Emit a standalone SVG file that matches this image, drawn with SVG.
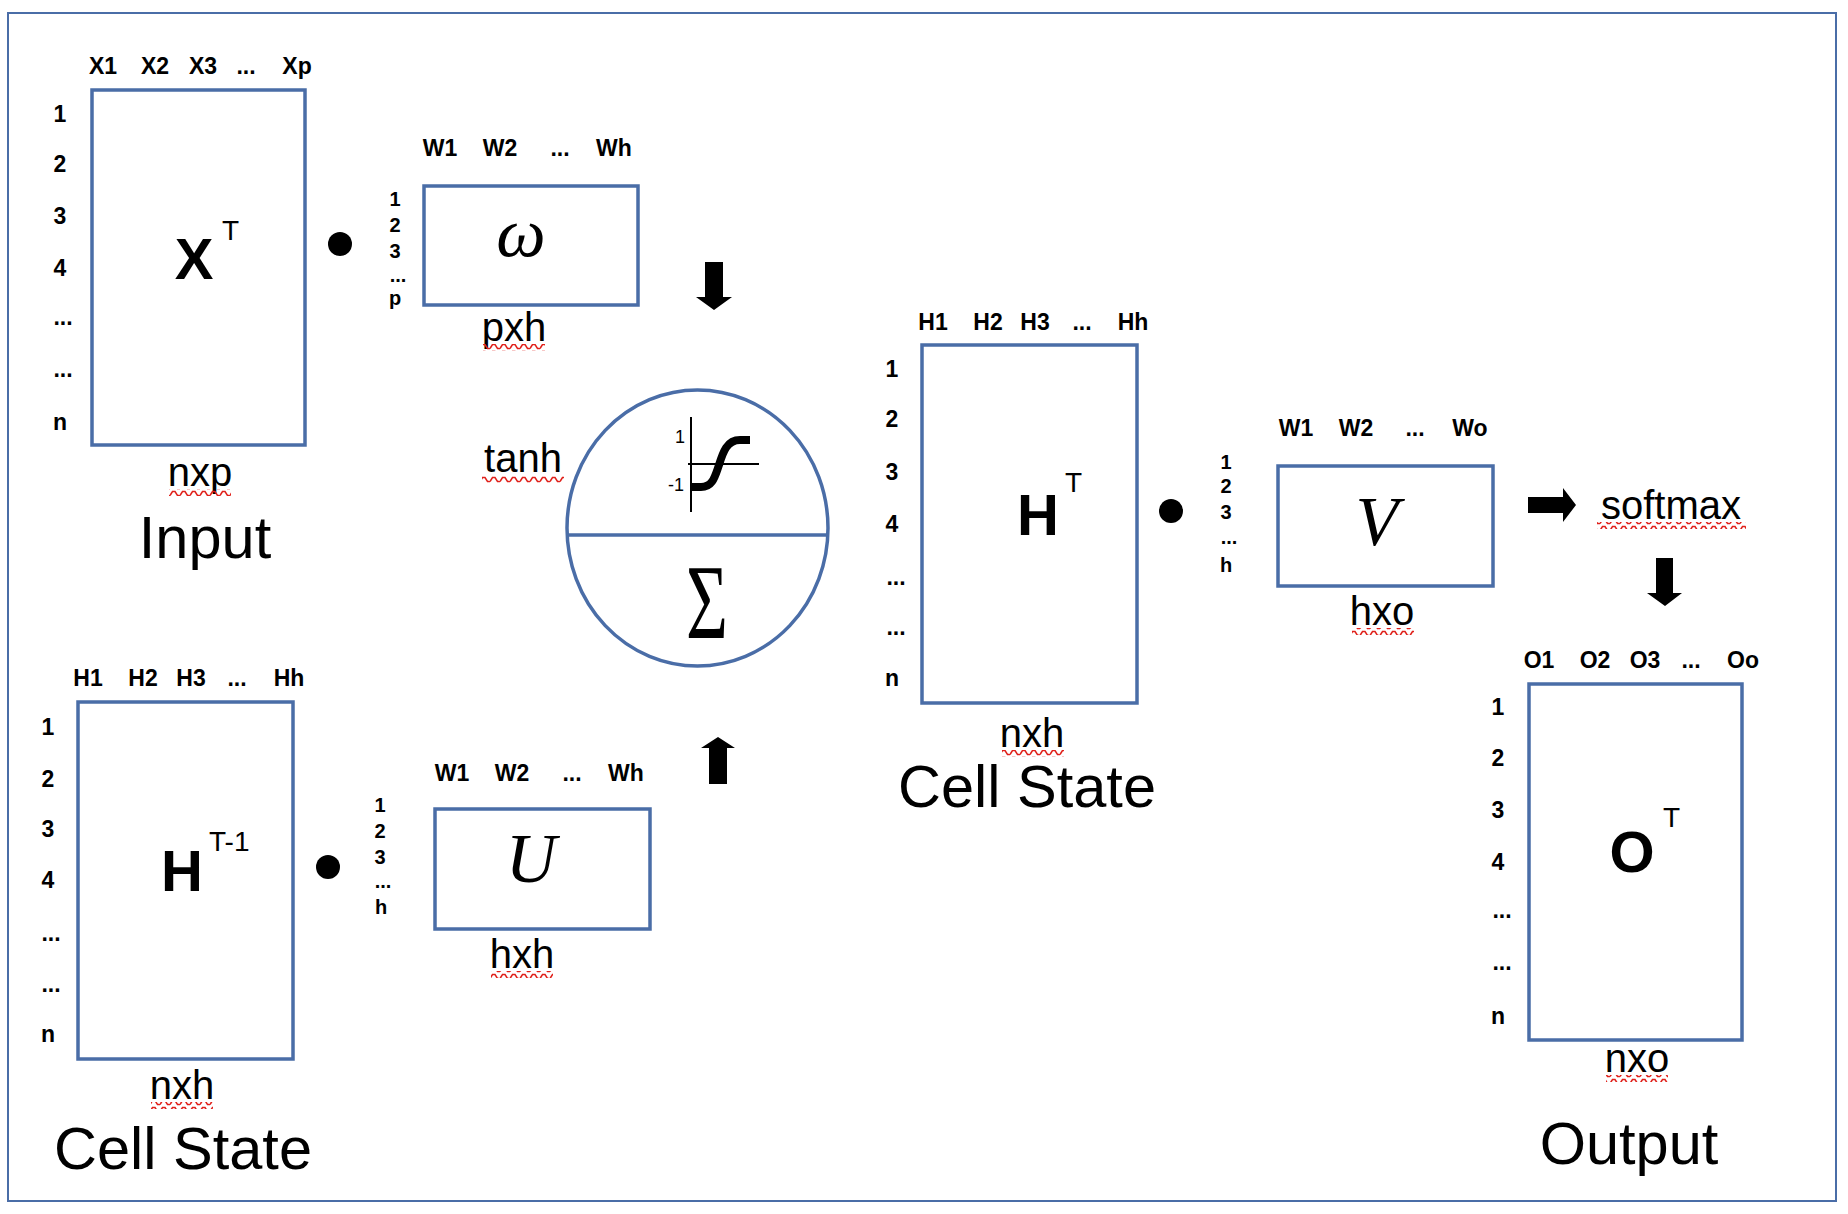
<svg xmlns="http://www.w3.org/2000/svg" width="1848" height="1214" viewBox="0 0 1848 1214">
<defs>
<style>
.box{fill:#fff;stroke:#4a6da7;stroke-width:3.5}
.lbl{font-family:"Liberation Sans",Arial,sans-serif;font-weight:bold;font-size:23px;fill:#000;text-anchor:middle}
.lbs{font-family:"Liberation Sans",Arial,sans-serif;font-weight:bold;font-size:20px;fill:#000;text-anchor:middle}
.sub{font-family:"Liberation Sans",Arial,sans-serif;font-size:40px;fill:#000;text-anchor:middle}
.big{font-family:"Liberation Sans",Arial,sans-serif;font-size:59.5px;fill:#000;text-anchor:middle}
.mat{font-family:"Liberation Sans",Arial,sans-serif;font-weight:bold;font-size:58px;fill:#000;text-anchor:middle}
.sup{font-family:"Liberation Sans",Arial,sans-serif;font-size:28px;fill:#000}
.greek{font-family:"Liberation Serif","Times New Roman",serif;font-style:italic;font-size:70px;fill:#000;text-anchor:middle}
.arrow{fill:#000}
.dot{fill:#000}
</style>
<pattern id="wave" patternUnits="userSpaceOnUse" width="10" height="7">
<path d="M0,5.5 L2.5,1.5 L5,1.5 L7.5,5.5 L10,5.5" fill="none" stroke="#e0201a" stroke-width="1.5"/>
</pattern>
</defs>
<rect x="0" y="0" width="1848" height="1214" fill="#fff"/>
<rect x="8" y="13" width="1828" height="1188" fill="none" stroke="#4a6da7" stroke-width="2"/>

<g id="input-matrix">
<rect class="box" x="92" y="90" width="213" height="355"/>
<text class="lbl" x="103" y="74">X1</text>
<text class="lbl" x="155" y="74">X2</text>
<text class="lbl" x="203" y="74">X3</text>
<text class="lbl" x="246" y="74">...</text>
<text class="lbl" x="297" y="74">Xp</text>
<text class="lbl" x="60" y="122">1</text>
<text class="lbl" x="60" y="172">2</text>
<text class="lbl" x="60" y="224">3</text>
<text class="lbl" x="60" y="276">4</text>
<text class="lbl" x="63" y="325">...</text>
<text class="lbl" x="63" y="377">...</text>
<text class="lbl" x="60" y="430">n</text>
<text class="mat" x="194" y="279">X</text>
<text class="sup" x="222" y="240">T</text>
<text class="sub" x="200" y="486">nxp</text>
<rect x="169" y="489" width="62" height="7" fill="url(#wave)"/>
<text class="big" x="205" y="558">Input</text>
</g>

<g id="omega-matrix">
<rect class="box" x="424" y="186" width="214" height="119"/>
<text class="lbl" x="440" y="156">W1</text>
<text class="lbl" x="500" y="156">W2</text>
<text class="lbl" x="560" y="156">...</text>
<text class="lbl" x="614" y="156">Wh</text>
<text class="lbs" x="395" y="206">1</text>
<text class="lbs" x="395" y="232">2</text>
<text class="lbs" x="395" y="258">3</text>
<text class="lbs" x="398" y="282">...</text>
<text class="lbs" x="395" y="305">p</text>
<text class="greek" x="521" y="256">ω</text>
<text class="sub" x="514" y="341">pxh</text>
<rect x="483" y="344" width="62" height="7" fill="url(#wave)"/>
</g>

<g id="activation-node">
<ellipse cx="697.5" cy="528" rx="130.5" ry="138" fill="#fff" stroke="#4a6da7" stroke-width="3.5"/>
<line x1="567.5" y1="535" x2="827.5" y2="535" stroke="#4a6da7" stroke-width="3.5"/>
<line x1="691" y1="417" x2="691" y2="512" stroke="#000" stroke-width="2"/>
<line x1="688" y1="464" x2="759" y2="464" stroke="#000" stroke-width="2"/>
<path d="M692,487 L701,487 C713,487 715,476 719,465 C723,452 727,440 740,440 L750,440" fill="none" stroke="#000" stroke-width="8"/>
<text x="680" y="443" font-family="Liberation Sans,Arial,sans-serif" font-size="18" text-anchor="middle">1</text>
<text x="684" y="491" font-family="Liberation Sans,Arial,sans-serif" font-size="18" text-anchor="end">-1</text>
<text transform="translate(707,638) scale(0.68,1)" x="0" y="0" font-family="Liberation Serif,Times New Roman,serif" font-size="106" text-anchor="middle">Σ</text>
<text class="sub" x="523" y="472" font-size="43">tanh</text>
<rect x="482" y="476" width="82" height="7" fill="url(#wave)"/>
</g>

<g id="prev-state-matrix">
<rect class="box" x="78" y="702" width="215" height="357"/>
<text class="lbl" x="88" y="686">H1</text>
<text class="lbl" x="143" y="686">H2</text>
<text class="lbl" x="191" y="686">H3</text>
<text class="lbl" x="237" y="686">...</text>
<text class="lbl" x="289" y="686">Hh</text>
<text class="lbl" x="48" y="735">1</text>
<text class="lbl" x="48" y="787">2</text>
<text class="lbl" x="48" y="837">3</text>
<text class="lbl" x="48" y="888">4</text>
<text class="lbl" x="51" y="941">...</text>
<text class="lbl" x="51" y="992">...</text>
<text class="lbl" x="48" y="1042">n</text>
<text class="mat" x="182" y="891">H</text>
<text class="sup" x="209" y="851">T-1</text>
<text class="sub" x="182" y="1099">nxh</text>
<rect x="151" y="1102" width="62" height="7" fill="url(#wave)"/>
<text class="big" x="183" y="1169">Cell State</text>
</g>

<g id="u-matrix">
<rect class="box" x="435" y="809" width="215" height="120"/>
<text class="lbl" x="452" y="781">W1</text>
<text class="lbl" x="512" y="781">W2</text>
<text class="lbl" x="572" y="781">...</text>
<text class="lbl" x="626" y="781">Wh</text>
<text class="lbs" x="380" y="812">1</text>
<text class="lbs" x="380" y="838">2</text>
<text class="lbs" x="380" y="864">3</text>
<text class="lbs" x="383" y="888">...</text>
<text class="lbs" x="381" y="914">h</text>
<text class="greek" x="531" y="882">U</text>
<text class="sub" x="522" y="968">hxh</text>
<rect x="491" y="971" width="62" height="7" fill="url(#wave)"/>
</g>

<g id="cell-state-matrix">
<rect class="box" x="922" y="345" width="215" height="358"/>
<text class="lbl" x="933" y="330">H1</text>
<text class="lbl" x="988" y="330">H2</text>
<text class="lbl" x="1035" y="330">H3</text>
<text class="lbl" x="1082" y="330">...</text>
<text class="lbl" x="1133" y="330">Hh</text>
<text class="lbl" x="892" y="377">1</text>
<text class="lbl" x="892" y="427">2</text>
<text class="lbl" x="892" y="480">3</text>
<text class="lbl" x="892" y="532">4</text>
<text class="lbl" x="896" y="585">...</text>
<text class="lbl" x="896" y="635">...</text>
<text class="lbl" x="892" y="686">n</text>
<text class="mat" x="1038" y="535">H</text>
<text class="sup" x="1065" y="492">T</text>
<text class="sub" x="1032" y="747">nxh</text>
<rect x="1002" y="750" width="62" height="7" fill="url(#wave)"/>
<text class="big" x="1027" y="807">Cell State</text>
</g>

<g id="v-matrix">
<rect class="box" x="1278" y="466" width="215" height="120"/>
<text class="lbl" x="1296" y="436">W1</text>
<text class="lbl" x="1356" y="436">W2</text>
<text class="lbl" x="1415" y="436">...</text>
<text class="lbl" x="1470" y="436">Wo</text>
<text class="lbs" x="1226" y="469">1</text>
<text class="lbs" x="1226" y="493">2</text>
<text class="lbs" x="1226" y="519">3</text>
<text class="lbs" x="1229" y="544">...</text>
<text class="lbs" x="1226" y="572">h</text>
<text class="greek" x="1377" y="545" font-size="72">V</text>
<text class="sub" x="1382" y="625">hxo</text>
<rect x="1352" y="628" width="62" height="7" fill="url(#wave)"/>
</g>

<g id="softmax">
<text class="sub" x="1671" y="519" font-size="42">softmax</text>
<rect x="1597" y="522" width="149" height="7" fill="url(#wave)"/>
</g>

<g id="output-matrix">
<rect class="box" x="1529" y="684" width="213" height="356"/>
<text class="lbl" x="1539" y="668">O1</text>
<text class="lbl" x="1595" y="668">O2</text>
<text class="lbl" x="1645" y="668">O3</text>
<text class="lbl" x="1691" y="668">...</text>
<text class="lbl" x="1743" y="668">Oo</text>
<text class="lbl" x="1498" y="715">1</text>
<text class="lbl" x="1498" y="766">2</text>
<text class="lbl" x="1498" y="818">3</text>
<text class="lbl" x="1498" y="870">4</text>
<text class="lbl" x="1502" y="918">...</text>
<text class="lbl" x="1502" y="970">...</text>
<text class="lbl" x="1498" y="1024">n</text>
<text class="mat" x="1632" y="872">O</text>
<text class="sup" x="1663" y="827">T</text>
<text class="sub" x="1637" y="1072">nxo</text>
<rect x="1606" y="1075" width="62" height="7" fill="url(#wave)"/>
<text class="big" x="1629" y="1164">Output</text>
</g>

<g id="connectors">
<circle class="dot" cx="340" cy="244" r="12"/>
<circle class="dot" cx="328" cy="867" r="12"/>
<circle class="dot" cx="1171" cy="511" r="12"/>
<polygon class="arrow" points="705,262 723,262 723,297 732,297 714,310 696,297 705,297"/>
<polygon class="arrow" points="709,784 727,784 727,748 735,748 718,737 701,748 709,748"/>
<polygon class="arrow" points="1528,497 1563,497 1563,488 1576,505 1563,522 1563,513 1528,513"/>
<polygon class="arrow" points="1656,558 1673,558 1673,593 1682,593 1665,606 1647,593 1656,593"/>
</g>
</svg>
